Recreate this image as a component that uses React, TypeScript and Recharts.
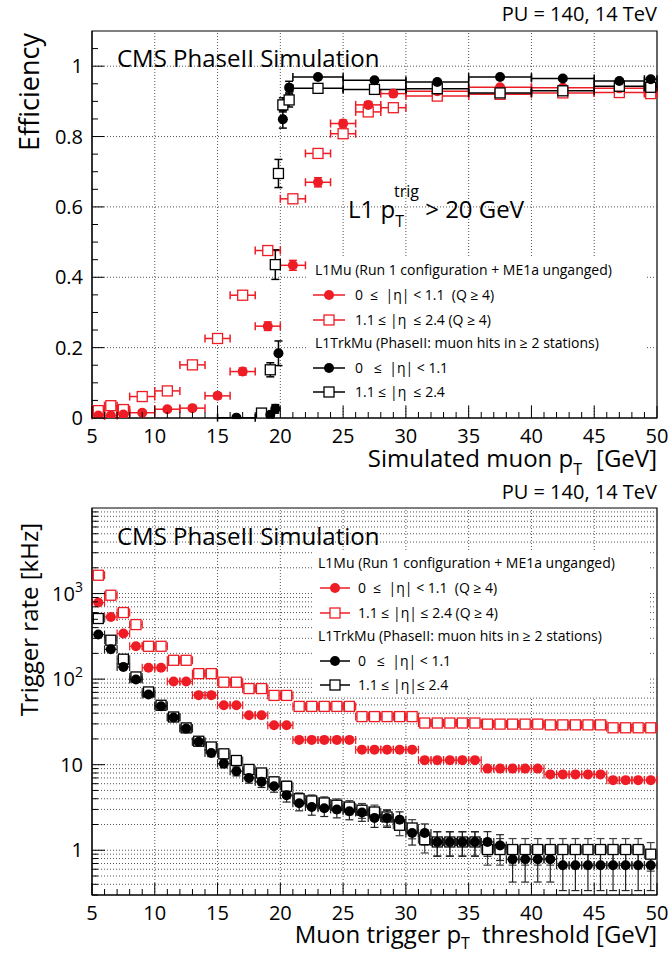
import React from 'react'
import { ScatterChart, Scatter, XAxis, YAxis, ErrorBar, ReferenceLine, ReferenceArea } from 'recharts'

const RED = '#ee1d25'
const FONT = '"Open Sans", Lato, sans-serif'
const GRID = '#555'

// ---- efficiency panel (top) ----
const effL1MuX = [5.5, 6.5, 7.5, 9, 11, 13, 15, 17, 19, 21, 23, 25, 27, 29, 32.5, 37.5, 42.5, 47, 49.5]
const effL1MuHalfBin = [0.5, 0.5, 0.5, 1, 1, 1, 1, 1, 1, 1, 1, 1, 1, 1, 2.5, 2.5, 2.5, 2, 0.5]
const effL1MuBarrel = [0.007, 0.007, 0.01, 0.015, 0.025, 0.028, 0.063, 0.132, 0.261, 0.434, 0.67, 0.837, 0.89, 0.922, 0.929, 0.94, 0.939, 0.937, 0.938]
const effL1MuBarrelErr = [0.004, 0.004, 0.004, 0.004, 0.005, 0.005, 0.008, 0.01, 0.012, 0.014, 0.013, 0.01, 0.009, 0.007, 0.005, 0.005, 0.005, 0.005, 0.008]
const effL1MuEndcap = [0.021, 0.035, 0.024, 0.061, 0.077, 0.151, 0.226, 0.349, 0.476, 0.623, 0.752, 0.808, 0.87, 0.882, 0.915, 0.92, 0.924, 0.925, 0.922]
const effL1MuEndcapErr = [0.006, 0.007, 0.006, 0.006, 0.007, 0.008, 0.009, 0.011, 0.012, 0.012, 0.011, 0.01, 0.009, 0.008, 0.005, 0.005, 0.005, 0.005, 0.008]

const effTrkBarrelX = [16.5, 19.2, 19.6, 19.85, 20.2, 20.7, 23, 27.5, 32.5, 37.5, 42.5, 47, 49.5]
const effTrkBarrelHalfBin = [1.5, 0.15, 0.15, 0.1, 0.15, 0.2, 2, 2.5, 2.5, 2.5, 2.5, 2, 0.5]
const effTrkBarrel = [0.001, 0.009, 0.026, 0.184, 0.849, 0.939, 0.969, 0.96, 0.955, 0.969, 0.965, 0.958, 0.963]
const effTrkBarrelErr = [0.002, 0.008, 0.012, 0.035, 0.025, 0.018, 0.005, 0.005, 0.005, 0.005, 0.005, 0.005, 0.007]
const effTrkEndcapX = [18.5, 19.2, 19.6, 19.85, 20.2, 20.7, 23, 27.5, 32.5, 37.5, 42.5, 47, 49.5]
const effTrkEndcapHalfBin = [0.3, 0.1, 0.1, 0.1, 0.15, 0.2, 2, 2.5, 2.5, 2.5, 2.5, 2, 0.5]
const effTrkEndcap = [0.014, 0.137, 0.436, 0.695, 0.89, 0.904, 0.937, 0.934, 0.936, 0.924, 0.93, 0.943, 0.94]
const effTrkEndcapErr = [0.006, 0.02, 0.042, 0.04, 0.02, 0.02, 0.005, 0.005, 0.005, 0.005, 0.005, 0.005, 0.007]

// ---- rate panel (bottom) ----
const rateThreshold = [
  5.5, 6.5, 7.5, 8.5, 9.5, 10.5, 11.5, 12.5, 13.5, 14.5, 15.5, 16.5, 17.5, 18.5, 19.5,
  20.5, 21.5, 22.5, 23.5, 24.5, 25.5, 26.5, 27.5, 28.5, 29.5, 30.5, 31.5, 32.5, 33.5, 34.5,
  35.5, 36.5, 37.5, 38.5, 39.5, 40.5, 41.5, 42.5, 43.5, 44.5, 45.5, 46.5, 47.5, 48.5, 49.5,
]
const rateL1MuBarrel = [
  785, 533, 341, 242, 136, 136, 94, 94, 65, 65, 49.5, 49.5, 37.8, 37.8, 28.9,
  28.9, 19.5, 19.5, 19.5, 19.5, 19.5, 15, 15, 15, 15, 15, 11.3, 11.3, 11.3, 11.3,
  11.3, 9, 9, 9, 9, 9, 7.7, 7.7, 7.7, 7.7, 7.7, 6.6, 6.6, 6.6, 6.6,
]
const rateL1MuEndcap = [
  1637, 956, 600, 434, 242, 242, 166, 166, 116, 116, 92, 92, 77.6, 77.6, 64.5,
  64.5, 48, 48, 48, 48, 48, 36.5, 36.5, 36.5, 36.5, 36.5, 30.7, 30.7, 30.7, 30.7,
  30.7, 29.8, 29.8, 29.8, 29.8, 29.8, 29.2, 29.2, 29.2, 29.2, 29.2, 27, 27, 27, 27,
]
const rateTrkBarrel = [
  332, 223, 139, 99, 66, 48.2, 35.6, 26.4, 18.5, 13.7, 10.3, 8.4, 7.0, 6.3, 5.6,
  4.4, 3.55, 3.2, 3.1, 3.0, 2.86, 2.76, 2.39, 2.39, 2.28, 1.59, 1.59, 1.25, 1.25, 1.25,
  1.25, 1.25, 1.14, 0.785, 0.785, 0.785, 0.785, 0.668, 0.668, 0.668, 0.668, 0.668, 0.668, 0.668, 0.668,
]
const rateTrkBarrelErr = [
  6.5, 5.2, 4.1, 3.5, 2.8, 2.4, 2.1, 1.8, 1.5, 1.3, 1.1, 1.0, 0.92, 0.88, 0.83,
  0.74, 0.66, 0.63, 0.62, 0.61, 0.59, 0.58, 0.54, 0.54, 0.53, 0.44, 0.44, 0.4, 0.4, 0.4,
  0.4, 0.4, 0.38, 0.36, 0.36, 0.36, 0.36, 0.33, 0.33, 0.33, 0.33, 0.33, 0.33, 0.33, 0.33,
]
const rateTrkEndcap = [
  511, 285, 171, 106, 70.8, 49.5, 36.1, 26.9, 18.8, 16.1, 13.4, 11.2, 8.8, 8.0, 6.3,
  5.6, 4.0, 3.77, 3.57, 3.36, 3.2, 2.94, 2.8, 2.45, 1.96, 1.82, 1.33, 1.25, 1.25, 1.25,
  1.25, 1.02, 1.02, 1.02, 1.02, 1.02, 1.02, 1.02, 1.02, 1.02, 1.02, 1.02, 1.02, 1.02, 0.9,
]
const rateTrkEndcapErr = [
  7.5, 5.6, 4.4, 3.5, 2.9, 2.4, 2.1, 1.8, 1.5, 1.4, 1.25, 1.15, 1.0, 0.97, 0.86,
  0.81, 0.68, 0.66, 0.64, 0.62, 0.6, 0.58, 0.57, 0.53, 0.48, 0.46, 0.4, 0.39, 0.39, 0.39,
  0.39, 0.35, 0.35, 0.35, 0.35, 0.35, 0.35, 0.35, 0.35, 0.35, 0.35, 0.35, 0.35, 0.35, 0.33,
]
const rateHalfBin = 0.5

// axis ticks
const xTicks = Array.from({ length: 46 }, (_, i) => 5 + i)
const xGrid = [10, 15, 20, 25, 30, 35, 40, 45]
const effYTicks = Array.from({ length: 22 }, (_, i) => +(i * 0.05).toFixed(2))
const effYGrid = [0.2, 0.4, 0.6, 0.8, 1]
const rateYTicks: number[] = [0.3, 0.4, 0.5, 0.6, 0.7, 0.8, 0.9]
for (const d of [1, 10, 100, 1000]) for (let m = 1; m <= 9; m++) rateYTicks.push(m * d)
const rateYGrid = rateYTicks.filter((v) => v > 0.3)

const isMultiple = (v: number, step: number) => Math.abs(v / step - Math.round(v / step)) < 1e-6

const rows = (xs: number[], ys: number[], ex: number[] | number, ey?: number[]) =>
  xs.map((x, i) => ({ x, y: ys[i], ex: Array.isArray(ex) ? ex[i] : ex, ey: ey ? ey[i] : 0 }))

function Marker({ kind, color, cx, cy }: { kind: string; color: string; cx: number; cy: number }) {
  if (kind === 'dot') return <circle cx={cx} cy={cy} r={5} fill={color} />
  return <rect x={cx - 5} y={cy - 5} width={10} height={10} fill="#fff" stroke={color} strokeWidth={1.3} />
}

const shape = (kind: string, color: string) => (p: any) => <Marker kind={kind} color={color} cx={p.cx} cy={p.cy} />

function XTick(props: any) {
  const { x, y, payload } = props
  const v = payload.value
  const major = isMultiple(v, 5)
  return (
    <g>
      <line x1={x} x2={x} y1={y} y2={y - (major ? 12 : 6)} stroke="#000" />
      {major && (
        <text x={x} y={y + 25} textAnchor="middle" fontSize={20} fontFamily={FONT} fill="#000">
          {v}
        </text>
      )}
    </g>
  )
}

function EffYTick(props: any) {
  const { x, y, payload } = props
  const v = payload.value
  const major = isMultiple(v, 0.2)
  const label = v === 0 ? '0' : v === 1 ? '1' : v.toFixed(1)
  return (
    <g>
      <line x1={x} x2={x + (major ? 12 : 6)} y1={y} y2={y} stroke="#000" />
      {major && (
        <text x={x - 9} y={y + 7} textAnchor="end" fontSize={20} fontFamily={FONT} fill="#000">
          {label}
        </text>
      )}
    </g>
  )
}

function RateYTick(props: any) {
  const { x, y, payload } = props
  const v = payload.value
  const major = v === 1 || v === 10 || v === 100 || v === 1000
  let label: React.ReactNode = null
  if (v === 1) label = '1'
  if (v === 10) label = '10'
  if (v === 100 || v === 1000)
    label = (
      <>
        10
        <tspan dy={-9} fontSize={14}>
          {v === 100 ? '2' : '3'}
        </tspan>
      </>
    )
  return (
    <g>
      <line x1={x} x2={x + (major ? 13 : 6)} y1={y} y2={y} stroke="#000" />
      {major && (
        <text x={x - 9} y={y + 7} textAnchor="end" fontSize={20} fontFamily={FONT} fill="#000">
          {label}
        </text>
      )}
    </g>
  )
}

type LegendRow = { text: string; kind?: string; color?: string }

function Legend({ left, lineX, textX, ys, rows: lr, box }: { left: number; lineX: [number, number]; textX: number; ys: number[]; rows: LegendRow[]; box: number[] }) {
  return (
    <g>
      <rect x={box[0]} y={box[1]} width={box[2] - box[0]} height={box[3] - box[1]} fill="#fff" />
      {lr.map((r, i) =>
        r.kind ? (
          <g key={i}>
            <line x1={lineX[0]} x2={lineX[1]} y1={ys[i]} y2={ys[i]} stroke={r.color} strokeWidth={1.5} />
            <Marker kind={r.kind} color={r.color!} cx={(lineX[0] + lineX[1]) / 2} cy={ys[i]} />
            <text x={textX} y={ys[i] + 5} fontSize={14} fontFamily={FONT} style={{ whiteSpace: 'pre' }}>
              {r.text}
            </text>
          </g>
        ) : (
          <text key={i} x={left} y={ys[i] + 5} fontSize={14} fontFamily={FONT} style={{ whiteSpace: 'pre' }}>
            {r.text}
          </text>
        )
      )}
    </g>
  )
}

const gridLine = { stroke: GRID, strokeDasharray: '1 2', strokeWidth: 1 }
const overlay: React.CSSProperties = { position: 'absolute', left: 0, top: 0, pointerEvents: 'none', overflow: 'visible' }

function EfficiencyPanel() {
  return (
    <div style={{ position: 'relative', width: 668, height: 478 }}>
      <ScatterChart width={668} height={478} margin={{ top: 31, right: 11, bottom: 0, left: 0 }}>
        <XAxis type="number" dataKey="x" domain={[5, 50]} ticks={xTicks} interval={0} height={60} tickSize={0} tickMargin={0} tick={XTick} axisLine={{ stroke: '#000' }} allowDataOverflow />
        <YAxis type="number" dataKey="y" domain={[0, 1.1]} ticks={effYTicks} interval={0} width={92} tickSize={0} tickMargin={0} tick={EffYTick} axisLine={{ stroke: '#000' }} allowDataOverflow />
        {xGrid.map((v) => (
          <ReferenceLine key={'gx' + v} x={v} {...gridLine} />
        ))}
        {effYGrid.map((v) => (
          <ReferenceLine key={'gy' + v} y={v} {...gridLine} />
        ))}
        <ReferenceArea x1={5} x2={50} y1={0} y2={1.1} fill="none" stroke="#000" strokeWidth={1.2} />
        <Scatter data={rows(effL1MuX, effL1MuEndcap, effL1MuHalfBin, effL1MuEndcapErr)} shape={shape('box', RED)} isAnimationActive={false}>
          <ErrorBar dataKey="ex" direction="x" width={4} stroke={RED} strokeWidth={1.5} />
          <ErrorBar dataKey="ey" direction="y" width={4} stroke={RED} strokeWidth={1.5} />
        </Scatter>
        <Scatter data={rows(effL1MuX, effL1MuBarrel, effL1MuHalfBin, effL1MuBarrelErr)} shape={shape('dot', RED)} isAnimationActive={false}>
          <ErrorBar dataKey="ex" direction="x" width={4} stroke={RED} strokeWidth={1.5} />
          <ErrorBar dataKey="ey" direction="y" width={4} stroke={RED} strokeWidth={1.5} />
        </Scatter>
        <Scatter data={rows(effTrkEndcapX, effTrkEndcap, effTrkEndcapHalfBin, effTrkEndcapErr)} shape={shape('box', '#000')} isAnimationActive={false}>
          <ErrorBar dataKey="ex" direction="x" width={4} stroke="#000" strokeWidth={1.5} />
          <ErrorBar dataKey="ey" direction="y" width={4} stroke="#000" strokeWidth={1.5} />
        </Scatter>
        <Scatter data={rows(effTrkBarrelX, effTrkBarrel, effTrkBarrelHalfBin, effTrkBarrelErr)} shape={shape('dot', '#000')} isAnimationActive={false}>
          <ErrorBar dataKey="ex" direction="x" width={4} stroke="#000" strokeWidth={1.5} />
          <ErrorBar dataKey="ey" direction="y" width={4} stroke="#000" strokeWidth={1.5} />
        </Scatter>
      </ScatterChart>
      <svg width={668} height={478} style={overlay}>
        <text x={657} y={21} textAnchor="end" fontSize={20} fontFamily={FONT}>PU = 140, 14 TeV</text>
        <text x={117} y={67} fontSize={24} fontFamily={FONT}>CMS PhaseII Simulation</text>
        <text transform="translate(39,33) rotate(-90)" textAnchor="end" fontSize={27} fontFamily={FONT}>Efficiency</text>
        <text x={348} y={218} fontSize={24} fontFamily={FONT}>
          L1 p<tspan fontSize={16} dy={9}>T</tspan>
          <tspan fontSize={16} dx={-10} dy={-30}>trig</tspan>
          <tspan fontSize={24} dy={21}> &gt; 20 GeV</tspan>
        </text>
        <text x={657} y={467} textAnchor="end" fontSize={24} fontFamily={FONT}>
          Simulated muon p<tspan fontSize={16} dy={8}>T</tspan>
          <tspan dx={14} dy={-8}>[GeV]</tspan>
        </text>
        <Legend
          left={315}
          lineX={[313, 345]}
          textX={355}
          ys={[270, 295, 320, 343, 368, 392]}
          box={[308, 257, 645, 405]}
          rows={[
            { text: 'L1Mu (Run 1 configuration + ME1a unganged)' },
            { text: '0  ≤  |η| < 1.1  (Q ≥ 4)', kind: 'dot', color: RED },
            { text: '1.1 ≤ |η  ≤ 2.4 (Q ≥ 4)', kind: 'box', color: RED },
            { text: 'L1TrkMu (PhaseII: muon hits in ≥ 2 stations)' },
            { text: '0   ≤  |η| < 1.1', kind: 'dot', color: '#000' },
            { text: '1.1 ≤ |η  ≤ 2.4', kind: 'box', color: '#000' },
          ]}
        />
      </svg>
    </div>
  )
}

function RatePanel() {
  return (
    <div style={{ position: 'relative', width: 668, height: 478 }}>
      <ScatterChart width={668} height={478} margin={{ top: 30, right: 11, bottom: 0, left: 0 }}>
        <XAxis type="number" dataKey="x" domain={[5, 50]} ticks={xTicks} interval={0} height={61} tickSize={0} tickMargin={0} tick={XTick} axisLine={{ stroke: '#000' }} allowDataOverflow />
        <YAxis type="number" dataKey="y" scale="log" domain={[0.3, 10000]} ticks={rateYTicks} interval={0} width={92} tickSize={0} tickMargin={0} tick={RateYTick} axisLine={{ stroke: '#000' }} allowDataOverflow />
        {xGrid.map((v) => (
          <ReferenceLine key={'gx' + v} x={v} {...gridLine} />
        ))}
        {rateYGrid.map((v) => (
          <ReferenceLine key={'gy' + v} y={v} {...gridLine} />
        ))}
        <ReferenceArea x1={5} x2={50} y1={0.3} y2={10000} fill="none" stroke="#000" strokeWidth={1.2} />
        <Scatter data={rows(rateThreshold, rateL1MuEndcap, rateHalfBin)} shape={shape('box', RED)} isAnimationActive={false}>
          <ErrorBar dataKey="ex" direction="x" width={4} stroke={RED} strokeWidth={1.2} />
        </Scatter>
        <Scatter data={rows(rateThreshold, rateL1MuBarrel, rateHalfBin)} shape={shape('dot', RED)} isAnimationActive={false}>
          <ErrorBar dataKey="ex" direction="x" width={4} stroke={RED} strokeWidth={1.2} />
        </Scatter>
        <Scatter data={rows(rateThreshold, rateTrkEndcap, rateHalfBin, rateTrkEndcapErr)} shape={shape('box', '#000')} isAnimationActive={false}>
          <ErrorBar dataKey="ex" direction="x" width={4} stroke="#444" strokeWidth={1.2} />
          <ErrorBar dataKey="ey" direction="y" width={4} stroke="#444" strokeWidth={1.2} />
        </Scatter>
        <Scatter data={rows(rateThreshold, rateTrkBarrel, rateHalfBin, rateTrkBarrelErr)} shape={shape('dot', '#000')} isAnimationActive={false}>
          <ErrorBar dataKey="ex" direction="x" width={4} stroke="#222" strokeWidth={1.2} />
          <ErrorBar dataKey="ey" direction="y" width={4} stroke="#222" strokeWidth={1.2} />
        </Scatter>
      </ScatterChart>
      <svg width={668} height={478} style={overlay}>
        <text x={657} y={21} textAnchor="end" fontSize={20} fontFamily={FONT}>PU = 140, 14 TeV</text>
        <text x={117} y={67} fontSize={24} fontFamily={FONT}>CMS PhaseII Simulation</text>
        <text transform="translate(38,45) rotate(-90)" textAnchor="end" fontSize={24} fontFamily={FONT}>Trigger rate [kHz]</text>
        <text x={657} y={465} textAnchor="end" fontSize={24} fontFamily={FONT}>
          Muon trigger p<tspan fontSize={16} dy={6}>T</tspan>
          <tspan dx={12} dy={-6}>threshold [GeV]</tspan>
        </text>
        <Legend
          left={318}
          lineX={[320, 350]}
          textX={358}
          ys={[85, 110, 135, 158, 183, 207]}
          box={[313, 74, 648, 219]}
          rows={[
            { text: 'L1Mu (Run 1 configuration + ME1a unganged)' },
            { text: '0  ≤  |η| < 1.1  (Q ≥ 4)', kind: 'dot', color: RED },
            { text: '1.1 ≤ |η| ≤ 2.4 (Q ≥ 4)', kind: 'box', color: RED },
            { text: 'L1TrkMu (PhaseII: muon hits in ≥ 2 stations)' },
            { text: '0   ≤  |η| < 1.1', kind: 'dot', color: '#000' },
            { text: '1.1 ≤ |η|≤ 2.4', kind: 'box', color: '#000' },
          ]}
        />
      </svg>
    </div>
  )
}

export default function App() {
  return (
    <div style={{ position: 'relative', width: 668, height: 956, background: '#fff', fontFamily: FONT }}>
      <style>{'body{margin:0}'}</style>
      <div style={{ position: 'absolute', left: 0, top: 0 }}>
        <EfficiencyPanel />
      </div>
      <div style={{ position: 'absolute', left: 0, top: 478 }}>
        <RatePanel />
      </div>
    </div>
  )
}
